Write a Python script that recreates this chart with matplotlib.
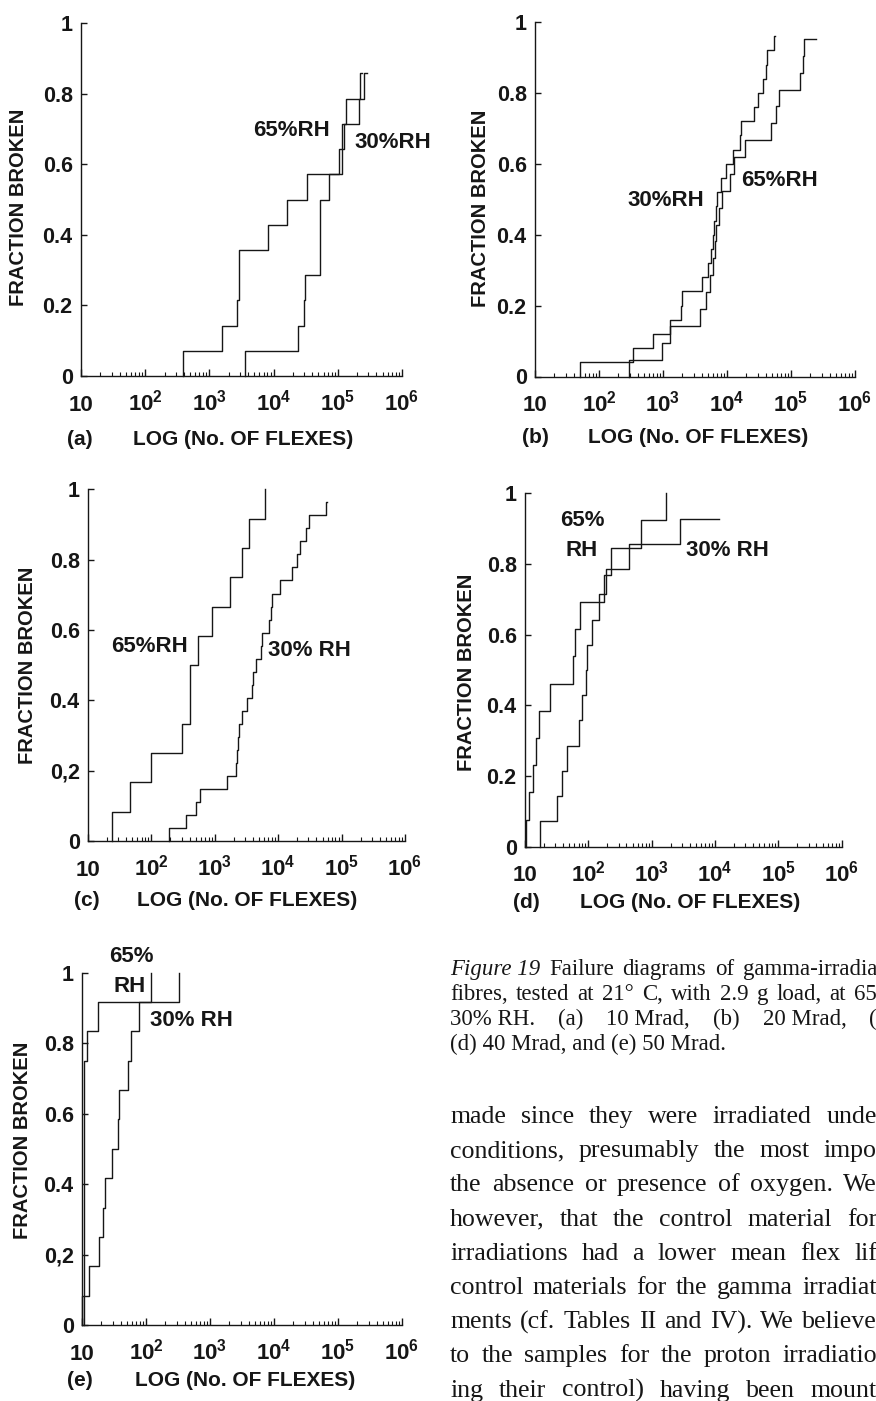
import numpy as np
import matplotlib
matplotlib.use("Agg")
from matplotlib import pyplot as plt
from matplotlib.ticker import LogLocator, NullFormatter

plt.rcParams['font.family'] = ['Liberation Sans', 'DejaVu Sans']
plt.rcParams['font.weight'] = 'bold'
plt.rcParams['mathtext.fontset'] = 'custom'
plt.rcParams['mathtext.rm'] = 'Liberation Sans:bold'
plt.rcParams['mathtext.it'] = 'Liberation Sans:bold'
plt.rcParams['mathtext.bf'] = 'Liberation Sans:bold'
plt.rcParams['mathtext.default'] = 'bf'

W, H = 876, 1401
INK = '#161616'

# flexes at each failure; n = specimens per test
a65_flex = [390, 1570, 2660, 2890, 2890, 8260, 16000, 33500, 105000, 115000, 133000, 259000]
a65_end, a65_n = 282000, 14
a30_flex = [3650, 24000, 29400, 31200, 51900, 52800, 53700, 72900, 118000, 123000, 216000, 218000]
a30_end, a30_n = 236000, 14

b65_flex = [296, 982, 1280, 3750, 4770, 5380, 5990, 6430, 6790, 7430, 8480, 11000, 12700,
            18900, 49300, 59000, 64800, 136000, 153000, 157000]
b65_end, b65_n = 242000, 21
b30_flex = [50, 338, 693, 1280, 1900, 1960, 4030, 5000, 5570, 5990, 6200, 6660, 6980, 8180,
            9790, 12400, 15800, 16800, 26100, 30500, 36500, 40200, 42700, 54100]
b30_end, b30_n = 56900, 25

c65_flex = [24.2, 45.5, 97.5, 301, 399, 399, 550, 894, 1720, 2660, 3460, 6120]
c65_end, c65_n = 6120, 12
c30_flex = [190, 347, 511, 576, 1540, 2130, 2210, 2320, 2410, 2720, 3180, 3910, 4050, 4410,
            5290, 5610, 7160, 7610, 8070, 10500, 16300, 20000, 21800, 27100, 30600, 56100]
c30_end, c30_n = 59600, 27

d65_flex = [10.5, 11.7, 13.5, 14.7, 16.8, 24.9, 58.1, 61.8, 74.1, 178, 227, 684, 1680]
d65_end, d65_n = 1680, 13
d30_flex = [17.3, 32.4, 38.1, 46.7, 72.3, 78.9, 92.3, 96.8, 116, 150, 191, 431, 2760]
d30_end, d30_n = 11500, 14

e65_flex = [10.7, 10.7, 10.7, 10.7, 10.7, 10.7, 10.7, 10.7, 10.7, 11.8, 17.6, 118]
e65_end, e65_n = 118, 12
e30_flex = [10.0, 13.0, 18.5, 21.1, 22.9, 29.1, 36.9, 38.3, 52.9, 57.6, 77.8, 331]
e30_end, e30_n = 331, 12

x_ticks = [10, 1e2, 1e3, 1e4, 1e5, 1e6]
x_tick_labels = ['10', r'$10^{2}$', r'$10^{3}$', r'$10^{4}$', r'$10^{5}$', r'$10^{6}$']
y_ticks = [0, 0.2, 0.4, 0.6, 0.8, 1.0]
y_labels_dot = ['0', '0.2', '0.4', '0.6', '0.8', '1']
y_labels_comma = ['0', '0,2', '0.4', '0.6', '0.8', '1']

# caption: word groups per line, (text, style)
caption_lines = [
    [('Figure 19', 'italic'), ('Failure', 'normal'), ('diagrams', 'normal'), ('of', 'normal'),
     ('gamma-irradia', 'normal')],
    [(w, 'normal') for w in 'fibres, tested at 21\u00b0 C, with 2.9 g load, at 65'.split()],
    [(w, 'normal') for w in ['30% RH.', '(a)', '10 Mrad,', '(b)', '20 Mrad,', '(']],
]
caption_last = '(d) 40 Mrad, and (e) 50 Mrad.'
body_lines = [
    'made since they were irradiated unde',
    'conditions, presumably the most impo',
    'the absence or presence of oxygen. We',
    'however, that the control material for',
    'irradiations had a lower mean flex lif',
    'control materials for the gamma irradiat',
    'ments (cf. Tables II and IV). We believe',
    'to the samples for the proton irradiatio',
    'ing their control) having been mount',
]


def fx(px):
    return px / W


def fy(py):
    return 1 - py / H


def draw_curve(ax, flexes, n, end):
    levels = np.arange(1, len(flexes) + 1) / n
    xs = np.r_[flexes[0], flexes, end]
    ys = np.r_[0, levels, levels[-1]]
    ax.step(xs, ys, where='post', color=INK, lw=1.0, clip_on=False)


def style_axes(ax, ylabels):
    ax.set_xscale('log')
    ax.set_xlim(10, 1e6)
    ax.set_ylim(0, 1)
    ax.patch.set_alpha(0)
    for s in ('top', 'right'):
        ax.spines[s].set_visible(False)
    for s in ('left', 'bottom'):
        ax.spines[s].set_linewidth(1.0)
        ax.spines[s].set_color(INK)
    ax.set_xticks(x_ticks)
    ax.set_xticklabels(x_tick_labels)
    ax.xaxis.set_minor_locator(LogLocator(base=10, subs=range(2, 10), numticks=20))
    ax.xaxis.set_minor_formatter(NullFormatter())
    ax.tick_params(axis='x', which='major', direction='in', length=5, width=1.0,
                   pad=25, labelsize=16, colors=INK)
    ax.tick_params(axis='x', which='minor', direction='in', length=3, width=0.8, colors=INK)
    for lab in ax.get_xticklabels():
        lab.set_va('baseline')
    ax.set_yticks(y_ticks)
    ax.set_yticklabels(ylabels)
    ax.tick_params(axis='y', direction='in', length=4, width=1.0, pad=6,
                   labelsize=15.5, colors=INK)


def justify(parts, x0, x1, base, size):
    r = fig.canvas.get_renderer()
    texts = [fig.text(0, fy(base), s, ha='left', va='baseline', fontsize=size,
                      family='Liberation Serif', fontweight='normal', style=st, color=INK)
             for s, st in parts]
    widths = [t.get_window_extent(r).width for t in texts]
    gap = (x1 - x0 - sum(widths)) / max(len(texts) - 1, 1)
    x = x0
    for t, w in zip(texts, widths):
        t.set_x(fx(x))
        x += w + gap


panels = [
    dict(rect=(81, 402, 376, 23), letter='(a)', curves=[(a65_flex, a65_n, a65_end), (a30_flex, a30_n, a30_end)],
         ylab=(19, 207), xl=(80, 439), xlog=(133, 439), ylabels=y_labels_dot,
         texts=[('65%RH', 292, 131), ('30%RH', 393, 143)]),
    dict(rect=(535, 855, 376.5, 22), letter='(b)', curves=[(b65_flex, b65_n, b65_end), (b30_flex, b30_n, b30_end)],
         ylab=(480, 208), xl=(535, 438), xlog=(588, 438), ylabels=y_labels_dot,
         texts=[('30%RH', 666, 201), ('65%RH', 780, 181)]),
    dict(rect=(88, 405, 841, 489.3), letter='(c)', curves=[(c65_flex, c65_n, c65_end), (c30_flex, c30_n, c30_end)],
         ylab=(28, 665), xl=(87, 900), xlog=(137, 900), ylabels=y_labels_comma,
         texts=[('65%RH', 150, 647), ('30% RH', 309, 650)]),
    dict(rect=(525, 841.7, 846.7, 493.3), letter='(d)', curves=[(d65_flex, d65_n, d65_end), (d30_flex, d30_n, d30_end)],
         ylab=(466, 672), xl=(526, 902), xlog=(580, 902), ylabels=y_labels_dot,
         texts=[('65%', 582, 521), ('RH', 582, 551), ('30% RH', 727, 551)]),
    dict(rect=(82, 402, 1325, 972.7), letter='(e)', curves=[(e65_flex, e65_n, e65_end), (e30_flex, e30_n, e30_end)],
         ylab=(23, 1140), xl=(80, 1380), xlog=(135, 1380), ylabels=y_labels_comma,
         texts=[('65%', 131, 957), ('RH', 130, 986), ('30% RH', 191, 1020)]),
]

fig = plt.figure(figsize=(W / 100, H / 100), dpi=100)
fig.patch.set_facecolor('white')

for p in panels:
    left, right, y0, y1 = p['rect']
    ax = fig.add_axes([fx(left), fy(y0), (right - left) / W, (y0 - y1) / H])
    style_axes(ax, p['ylabels'])
    for flexes, n, end in p['curves']:
        draw_curve(ax, flexes, n, end)
    fig.text(fx(p['ylab'][0]), fy(p['ylab'][1]), 'FRACTION BROKEN', rotation=90,
             ha='center', va='center', fontsize=14.5, color=INK)
    fig.text(fx(p['xl'][0]), fy(p['xl'][1]), p['letter'], ha='center', va='center',
             fontsize=15, color=INK)
    fig.text(fx(p['xlog'][0]), fy(p['xlog'][1]), 'LOG (No. OF FLEXES)', ha='left',
             va='center', fontsize=15, color=INK)
    for s, tx, ty in p['texts']:
        fig.text(fx(tx), fy(ty), s, ha='center', va='center', fontsize=16, color=INK)

cap_base = [975, 1000, 1025, 1050]
for base, parts in zip(cap_base, caption_lines):
    justify(parts, 450, 877, base, 16.5)
fig.text(fx(450), fy(cap_base[3]), caption_last, ha='left', va='baseline', fontsize=16.5,
         family='Liberation Serif', fontweight='normal', color=INK)

for i, s in enumerate(body_lines):
    justify([(w, 'normal') for w in s.split()], 450, 877, 1123 + 34.2 * i, 18.6)

fig.savefig('out.png', dpi=100, facecolor='white')
